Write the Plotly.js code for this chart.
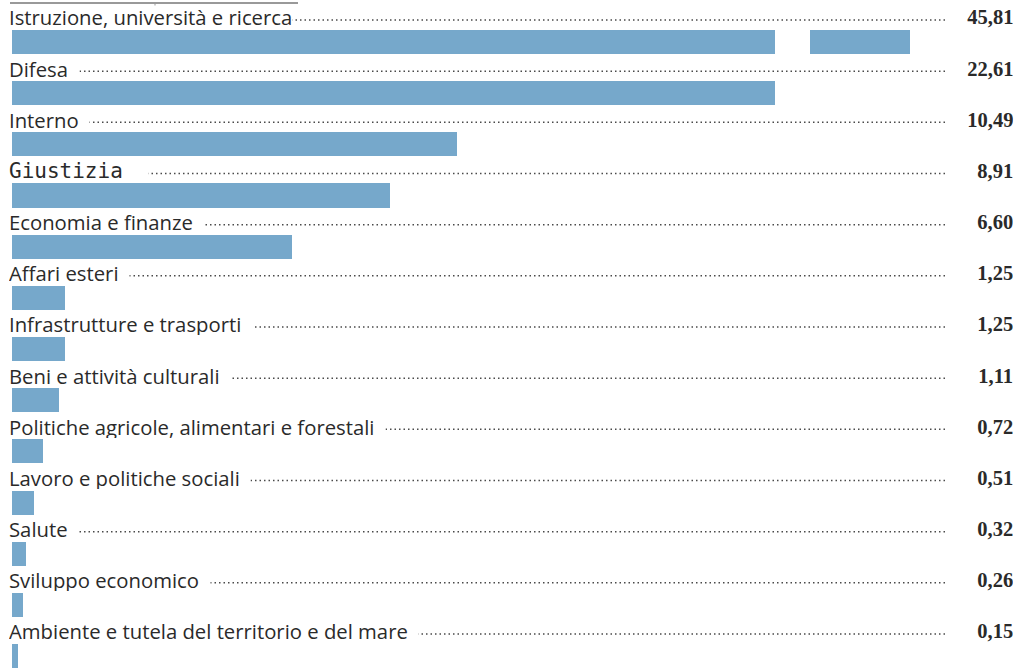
<!DOCTYPE html>
<html>
<head>
<meta charset="utf-8">
<script src="https://cdn.plot.ly/plotly-3.0.1.min.js"></script>
<style>html,body{margin:0;padding:0;background:#fff;}#chart{width:1018px;height:672px;}</style>
</head>
<body>
<div id="chart"></div>
<script>
// ---- data ----
const categories = [
  "Istruzione, università e ricerca",
  "Difesa",
  "Interno",
  "Giustizia",
  "Economia e finanze",
  "Affari esteri",
  "Infrastrutture e trasporti",
  "Beni e attività culturali",
  "Politiche agricole, alimentari e forestali",
  "Lavoro e politiche sociali",
  "Salute",
  "Sviluppo economico",
  "Ambiente e tutela del territorio e del mare"
];
const values = [45.81, 22.61, 10.49, 8.91, 6.60, 1.25, 1.25, 1.11, 0.72, 0.51, 0.32, 0.26, 0.15];
const brokenCategory = "Istruzione, università e ricerca";

// ---- layout helpers ----
const W = 1018, H = 672;
const pxPerUnit = 42.4;
const x0px = 12;          // pixel where value 0 sits
const mainEndPx = 775;    // end of main axis (break)
const segStartPx = 810, segEndPx = 910;
const rowPx = 51.17, firstBarPx = 42;
const yTop = -firstBarPx / rowPx;
const yBottom = yTop + H / rowPx;
const idx = categories.map((c, i) => i);
const fmt = v => v.toFixed(2).replace('.', ',');
const barColor = '#76a8cb';

const traces = [
  {
    type: 'bar', orientation: 'h',
    y: idx, x: values,
    width: 0.47,
    marker: {color: barColor},
    hoverinfo: 'skip', xaxis: 'x', yaxis: 'y'
  },
  {
    type: 'bar', orientation: 'h',
    y: [categories.indexOf(brokenCategory)],
    x: [values[categories.indexOf(brokenCategory)]],
    width: 0.47,
    marker: {color: barColor},
    hoverinfo: 'skip', xaxis: 'x2', yaxis: 'y'
  }
];

const brokenVal = values[categories.indexOf(brokenCategory)];
const annotations = [];
const shapes = [];
categories.forEach((c, i) => {
  const yl = i - 0.48;
  const isBig = c === 'Giustizia';
  const gap = i === 0 ? '' : '&nbsp;&nbsp;';
  annotations.push({
    xref: 'paper', yref: 'y', x: 8 / W, y: yl,
    xanchor: 'left', yanchor: 'middle', showarrow: false,
    text: c + gap, bgcolor: '#ffffff', borderpad: 0, height: 22, valign: 'middle',
    font: isBig ? {family: '"DejaVu Sans Mono", monospace', size: 21, color: '#2a2a2a'}
                : {family: '"Open Sans", "Noto Sans", sans-serif', size: 20.3, color: '#2a2a2a'}
  });
  annotations.push({
    xref: 'paper', yref: 'y', x: 1014 / W, y: yl,
    xanchor: 'right', yanchor: 'middle', showarrow: false,
    text: '&nbsp;&nbsp;<b>' + fmt(values[i]) + '</b>', bgcolor: '#ffffff', borderpad: 0, height: 22, valign: 'middle',
    font: {family: '"Liberation Serif", "DejaVu Serif", serif', size: 20.5, color: '#2a2a2a'}
  });
  shapes.push({
    type: 'line', xref: 'paper', yref: 'y', layer: 'below',
    x0: 12 / W, x1: 946 / W, y0: yl + 0.05, y1: yl + 0.05,
    line: {color: '#4a4a4a', width: 1.5, dash: '1.5px,3px'}
  });
});
// top rule
shapes.push({type: 'line', xref: 'paper', yref: 'paper', x0: 10 / W, x1: 298 / W, y0: 1 - 3 / H, y1: 1 - 3 / H, line: {color: '#777777', width: 1.5}});
shapes.push({type: 'line', xref: 'paper', yref: 'paper', x0: 155 / W, x1: 155 / W, y0: 1 - 3 / H, y1: 1 - 9 / H, line: {color: '#999999', width: 1}});

const layout = {
  width: W, height: H,
  margin: {l: 0, r: 0, t: 0, b: 0},
  paper_bgcolor: '#ffffff', plot_bgcolor: 'rgba(0,0,0,0)',
  showlegend: false,
  xaxis: {domain: [0, mainEndPx / W], range: [-x0px / pxPerUnit, (mainEndPx - x0px) / pxPerUnit],
          visible: false, fixedrange: true},
  xaxis2: {domain: [segStartPx / W, segEndPx / W],
           range: [brokenVal - (segEndPx - segStartPx) / pxPerUnit, brokenVal],
           visible: false, anchor: 'y', fixedrange: true},
  yaxis: {range: [yBottom, yTop], visible: false, fixedrange: true},
  annotations: annotations,
  shapes: shapes,
  bargap: 0
};

Plotly.newPlot('chart', traces, layout, {displayModeBar: false, staticPlot: true});
</script>
</body>
</html>
